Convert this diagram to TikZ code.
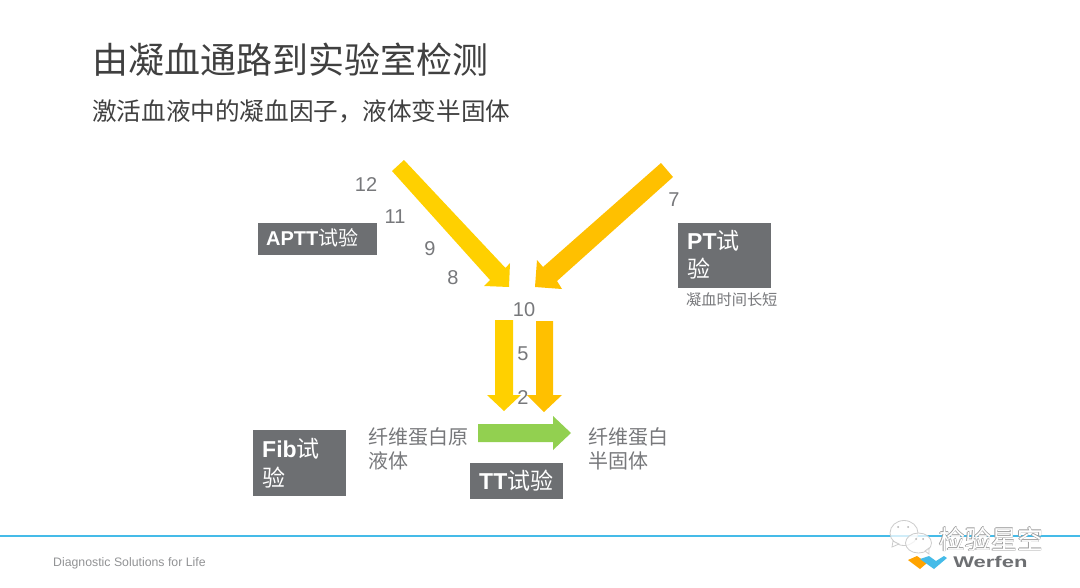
\documentclass[tikz,border=0pt]{standalone}
\usepackage{fontspec}
\setmainfont{Liberation Sans}
\newfontfamily\cjk{Noto Sans CJK SC}
\definecolor{titlec}{HTML}{404040}
\definecolor{textc}{HTML}{77787B}
\definecolor{boxc}{HTML}{6D6F72}
\definecolor{yel}{HTML}{FFD000}
\definecolor{ora}{HTML}{FFC000}
\definecolor{grn}{HTML}{92D050}
\definecolor{linec}{HTML}{45BBE8}
\newcommand{\fs}[1]{\fontsize{#1}{#1}\selectfont}
\tikzset{
 x=1pt,y=-1pt,
 txt/.style={anchor=base west,inner sep=0pt,text=textc},
 num/.style={anchor=center,inner sep=0pt,text=textc,font=\fs{20}},
 boxtxt/.style={anchor=base west,inner sep=0pt,text=white,font=\fs{23}\bfseries,align=left},
 bubble/.style={draw=gray!40,line width=.8pt,fill=white,fill opacity=.75},
}
\begin{document}
\begin{tikzpicture}
\useasboundingbox (0,0) rectangle (1080,587);
\fill[white] (0,0) rectangle (1080,587);
\node[txt,text=titlec] (title) at (92,73) {\fs{36}\cjk 由凝血通路到实验室检测};
\node[txt,text=titlec] (sub) at (92,120) {\fs{24.6}\cjk 激活血液中的凝血因子，液体变半固体};

% block arrows
\fill[yel] (404,160) -- (392,171) -- (490,280) -- (484,286) -- (509,287) -- (510,263) -- (505.5,268) -- cycle;
\fill[ora] (661,163) -- (673,177) -- (557,281) -- (562,289) -- (535,287) -- (537,260) -- (543,267) -- cycle;
\fill[yel] (495,320) -- (513,320) -- (513,395) -- (521,395) -- (504,411) -- (487,395) -- (495,395) -- cycle;
\fill[ora] (536,321) -- (553,321) -- (553,395) -- (562,395) -- (544,412) -- (527,395) -- (536,395) -- cycle;
\fill[grn] (478,424) -- (553,424) -- (553,416) -- (571,433) -- (553,450) -- (553,442) -- (478,442) -- cycle;

% numbers
\node[num] (n12) at (366,184.5) {12};
\node[num] (n11) at (395,216.5) {11};
\node[num] (n9) at (430,248.5) {9};
\node[num] (n8) at (453,277.5) {8};
\node[num] (n7) at (674,199.5) {7};
\node[num] (n10) at (524,310) {10};
\node[num] (n5) at (523,354) {5};
\node[num] (n2) at (523,398) {2};

% label boxes
\fill[boxc] (258,223) rectangle (377,255);
\node[boxtxt,font=\fs{20}\bfseries] (aptt) at (266,245) {APTT{\cjk\mdseries 试验}};
\fill[boxc] (678,223) rectangle (771,288);
\node[boxtxt] (pt1) at (687,249) {PT{\cjk\mdseries 试}};
\node[boxtxt] (pt2) at (687,277) {\cjk\mdseries 验};
\fill[boxc] (253,430) rectangle (346,496);
\node[boxtxt] (fib1) at (262,457) {Fib{\cjk\mdseries 试}};
\node[boxtxt] (fib2) at (262,486) {\cjk\mdseries 验};
\fill[boxc] (470,463) rectangle (563,499);
\node[boxtxt] (tt) at (479,489) {TT{\cjk\mdseries 试验}};

% texts
\node[txt] (a1) at (368,444) {\fs{20}\cjk 纤维蛋白原};
\node[txt] (a2) at (368,468) {\fs{20}\cjk 液体};
\node[txt] (b1) at (588,444) {\fs{20}\cjk 纤维蛋白};
\node[txt] (b2) at (588,468) {\fs{20}\cjk 半固体};
\node[txt] (c1) at (686,305) {\fs{15.2}\cjk 凝血时间长短};

% footer
\draw[linec,line width=1.2pt] (0,536) -- (1080,536);
\node[txt,text=textc!80!white] (foot) at (53,566) {\fs{12.3}Diagnostic Solutions for Life};

% Werfen logo
\fill[ora!85!red] (908,560) -- (917,556) -- (927,563) -- (920,569) -- cycle;
\fill[linec] (920,559) -- (929,556) -- (936,561) -- (944,556) -- (947,558) -- (934,569) -- cycle;
\node[txt,text=boxc,xscale=1.42,transform shape] (wf) at (953,567) {\fs{15.5}\bfseries Werfen};

% watermark
\path[bubble] (904,533) ellipse [x radius=14pt,y radius=12.5pt];
\path[bubble] (893,541) -- (892,547) -- (899,544) -- cycle;
\path[bubble] (918.5,543) ellipse [x radius=13pt,y radius=10pt];
\path[bubble] (925,551) -- (929,554) -- (929,548) -- cycle;
\fill[gray!60] (898,527) circle (1) (908,527) circle (1) (916,539) circle (1) (923,539) circle (1);
\foreach \dx/\dy in {-.6/0,.6/0,0/-.6,0/.6}
  \node[txt,text=gray!75] at (939+\dx,549+\dy) {\fs{26}\cjk 检验星空};
\node[txt,text=white] (wm) at (939,549) {\fs{26}\cjk 检验星空};
\end{tikzpicture}
\end{document}
